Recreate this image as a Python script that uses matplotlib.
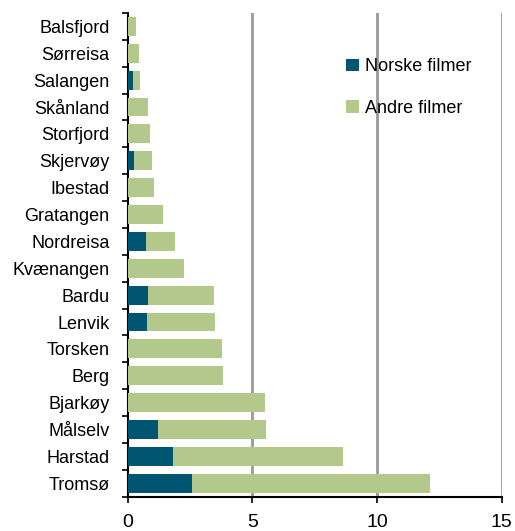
import numpy as np
import matplotlib.pyplot as plt
from matplotlib.ticker import FixedLocator

plt.rcParams['font.family'] = ['Liberation Sans', 'DejaVu Sans']

# kommuner, listed top to bottom as in the chart
kommuner = ['Balsfjord', 'Sørreisa', 'Salangen', 'Skånland', 'Storfjord',
            'Skjervøy', 'Ibestad', 'Gratangen', 'Nordreisa', 'Kvænangen',
            'Bardu', 'Lenvik', 'Torsken', 'Berg', 'Bjarkøy', 'Målselv',
            'Harstad', 'Tromsø']
norske = [0.0, 0.0, 0.2, 0.0, 0.0, 0.27, 0.0, 0.0, 0.75, 0.0,
          0.82, 0.77, 0.0, 0.0, 0.0, 1.23, 1.80, 2.56]
totalt = [0.34, 0.46, 0.48, 0.83, 0.88, 0.97, 1.05, 1.40, 1.91, 2.24,
          3.46, 3.51, 3.79, 3.83, 5.50, 5.54, 8.62, 12.14]
andre = [t - n for t, n in zip(totalt, norske)]

DARK = '#005670'
GREEN = '#B3C98C'

fig = plt.figure(figsize=(5.15, 5.31), dpi=100)
ax = fig.add_axes([0.248, 0.0646, 0.726, 0.911])

y = np.arange(len(kommuner))[::-1]
ax.barh(y, norske, height=0.7, color=DARK, label='Norske filmer', zorder=3)
ax.barh(y, andre, left=norske, height=0.7, color=GREEN, label='Andre filmer', zorder=3)

ax.set_xlim(0, 15)
ax.set_ylim(-0.5, len(kommuner) - 0.5)
ax.set_xticks([0, 5, 10, 15])
ax.tick_params(axis='x', labelsize=14, length=4, width=1.2, direction='out', pad=8.5)
ax.set_yticks(y)
ax.set_yticklabels(kommuner)
ax.tick_params(axis='y', which='major', length=0, labelsize=13, pad=13)
ax.yaxis.set_minor_locator(FixedLocator(np.arange(-0.5, len(kommuner), 1.0)))
ax.tick_params(axis='y', which='minor', length=4, width=1.2, direction='out')

for xv in [5, 10, 15]:
    ax.axvline(xv, color='#999999', lw=2, zorder=1)

for s in ['top', 'right']:
    ax.spines[s].set_visible(False)
ax.spines['left'].set_linewidth(1.5)
ax.spines['bottom'].set_linewidth(1.5)

ax.legend(loc='upper left', bbox_to_anchor=(0.54, 0.94), frameon=False,
          fontsize=13, handlelength=0.7, handleheight=0.7,
          handletextpad=0.35, labelspacing=1.35)

fig.savefig('out.png', dpi=100)
